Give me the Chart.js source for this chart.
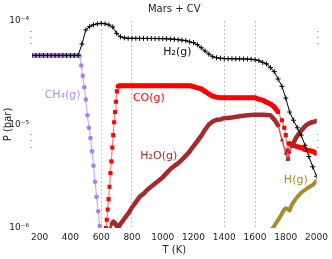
<!DOCTYPE html>
<html>
<head>
<meta charset="utf-8">
<script src="https://cdn.jsdelivr.net/npm/chart.js@4.4.0/dist/chart.umd.min.js"></script>
<style>
  html, body { margin: 0; padding: 0; background: #fff; }
</style>
</head>
<body>
<canvas id="chart" width="332" height="259"></canvas>
<script>
// temperatures (K) and partial pressures (bar)
const tempH2 = [150,175,200,225,250,275,300,325,350,375,400,425,450,475,500,525,550,575,600,625,650,675,700,725,750,775,800,825,850,875,900,925,950,975,1000,1025,1050,1075,1100,1125,1150,1175,1200,1225,1250,1275,1300,1325,1350,1375,1400,1425,1450,1475,1500,1525,1550,1575,1600,1625,1650,1675,1700,1725,1750,1775,1800,1825,1850,1875,1900,1925,1950,1975,2000];
const presH2 = [4.65e-5,4.65e-5,4.65e-5,4.65e-5,4.65e-5,4.65e-5,4.65e-5,4.65e-5,4.65e-5,4.65e-5,4.65e-5,4.65e-5,4.65e-5,
  6.0e-5,8.2e-5,8.85e-5,9.2e-5,9.38e-5,9.5e-5,9.4e-5,9.16e-5,8.75e-5,7.6e-5,7.05e-5,6.87e-5,
  6.8e-5,6.8e-5,6.8e-5,6.79e-5,6.79e-5,6.78e-5,6.78e-5,6.77e-5,6.76e-5,6.75e-5,6.73e-5,6.7e-5,
  6.67e-5,6.6e-5,6.53e-5,6.46e-5,6.3e-5,6.17e-5,5.9e-5,5.52e-5,5.13e-5,4.79e-5,4.52e-5,4.42e-5,4.37e-5,
  4.33e-5,4.32e-5,4.32e-5,4.31e-5,4.31e-5,4.3e-5,4.29e-5,4.27e-5,
  4.22e-5,4.14e-5,3.98e-5,3.85e-5,3.55e-5,3.24e-5,2.75e-5,2.34e-5,1.8e-5,1.32e-5,1.1e-5,9.3e-6,7.9e-6,6.3e-6,4.9e-6,3.9e-6,3.16e-6];

const tempCH4 = [150,175,200,225,250,275,300,325,350,375,400,425,450,460,470,480,490,500,510,520,530,540,550,560,570,580,590];
const presCH4 = [4.65e-5,4.65e-5,4.65e-5,4.65e-5,4.65e-5,4.65e-5,4.65e-5,4.65e-5,4.65e-5,4.65e-5,4.65e-5,4.65e-5,4.65e-5,
  4.6e-5,3.72e-5,2.95e-5,2.29e-5,1.74e-5,1.23e-5,9.3e-6,7.4e-6,5.5e-6,4.0e-6,2.8e-6,2.0e-6,1.45e-6,1.05e-6];

const tempCO = [630,636,642,648,654,660,666,672,678,684,690,696,702,708,
  725,750,775,800,825,850,875,900,925,950,975,1000,1025,1050,1075,1100,1125,1150,1175,
  1200,1225,1250,1275,1300,1325,1350,1375,1400,1425,1450,1475,1500,1525,1550,1575,1600,
  1625,1650,1675,1700,1725,1750,1775,1790,1800,1810,1815,1820,1850,1875,1900,1925,1950,1975,2000];
const presCO = [1.0e-6,1.2e-6,1.51e-6,1.9e-6,2.5e-6,3.4e-6,4.4e-6,6.0e-6,7.9e-6,1.05e-5,1.32e-5,1.66e-5,2.09e-5,2.34e-5,
  2.37e-5,2.37e-5,2.37e-5,2.37e-5,2.37e-5,2.37e-5,2.37e-5,2.37e-5,2.37e-5,2.37e-5,2.37e-5,2.37e-5,2.37e-5,2.37e-5,2.37e-5,2.37e-5,2.37e-5,2.37e-5,2.37e-5,
  2.32e-5,2.26e-5,2.21e-5,2.09e-5,1.97e-5,1.88e-5,1.84e-5,1.81e-5,1.81e-5,1.81e-5,1.81e-5,1.81e-5,1.81e-5,1.81e-5,1.81e-5,1.81e-5,1.81e-5,
  1.76e-5,1.72e-5,1.64e-5,1.58e-5,1.48e-5,1.32e-5,1.1e-5,9.3e-6,7.9e-6,5.6e-6,4.7e-6,6.6e-6,6.3e-6,6.1e-6,5.96e-6,5.75e-6,5.6e-6,5.5e-6,5.25e-6];

const tempH2O = [650,660,670,680,690,700,710,720,740,760,780,800,825,850,875,900,925,950,975,1000,
  1025,1050,1075,1100,1125,1150,1175,1200,1225,1250,1275,1300,1325,1350,1375,1400,1450,1500,1550,1600,1650,
  1700,1725,1750,1775,1800,1812,1825,1840,1870,1900,1930,1960,1990,2000];
const presH2O = [9.3e-7,1.02e-6,1.1e-6,1.15e-6,1.12e-6,1.05e-6,1.0e-6,1.07e-6,1.17e-6,1.29e-6,1.41e-6,1.58e-6,1.78e-6,2.0e-6,2.14e-6,2.34e-6,2.51e-6,2.69e-6,2.88e-6,3.09e-6,
  3.39e-6,3.72e-6,3.98e-6,4.22e-6,4.57e-6,5.0e-6,5.5e-6,6.17e-6,6.9e-6,7.76e-6,8.9e-6,1.0e-5,1.07e-5,1.11e-5,1.12e-5,1.15e-5,1.17e-5,1.2e-5,1.23e-5,1.24e-5,1.24e-5,
  1.23e-5,1.12e-5,9.8e-6,7.1e-6,5.25e-6,4.57e-6,5.4e-6,6.2e-6,7.6e-6,8.7e-6,9.8e-6,1.04e-5,1.07e-5,1.08e-5];

const tempH = [1700,1720,1743,1765,1786,1800,1812,1824,1835,1850,1875,1900,1925,1950,1975,1990,2000];
const presH = [9.1e-7,1.02e-6,1.15e-6,1.3e-6,1.48e-6,1.55e-6,1.53e-6,1.48e-6,1.62e-6,1.78e-6,2.0e-6,2.19e-6,2.34e-6,2.48e-6,2.6e-6,2.75e-6,2.85e-6];

const xTicks = [200,400,600,800,1000,1200,1400,1600,1800,2000];
const gridTemps = [600,800,1400,1600];
const yTicks = [1e-6,6e-6,7e-6,8e-6,1e-5,6e-5,7e-5,8e-5,1e-4];

const FONT = '"DejaVu Sans", sans-serif';
Chart.defaults.font.family = FONT;
Chart.defaults.color = '#222';

function pts(ts, ps) {
    return ts.map((t, i) => ({ x: t, y: ps[i] }));
}

// steep parts are drawn thin and pale, flat parts as a thick band
function steep(c) {
    return Math.abs(c.p1.y - c.p0.y) > 2 * Math.abs(c.p1.x - c.p0.x);
}
function band(thick, thin, col, pale) {
    return {
        borderWidth: c => steep(c) ? thin : thick,
        borderColor: c => steep(c) ? pale : col
    };
}

const SUP = { '-': '⁻', '0': '⁰', '1': '¹', '2': '²', '3': '³', '4': '⁴', '5': '⁵', '6': '⁶', '7': '⁷', '8': '⁸', '9': '⁹' };
function isMajor(v) {
    const e = Math.log10(v);
    return Math.abs(e - Math.round(e)) < 1e-6;
}
function powLabel(v) {
    if (!isMajor(v)) return '';
    return '10' + String(Math.round(Math.log10(v))).split('').map(ch => SUP[ch]).join('');
}

// species names placed in data coordinates
const curveLabels = [
    { text: 'CH₄(g)', t: 349, p: 1.94e-5, color: '#b38ff0' },
    { text: 'CO(g)', t: 910, p: 1.78e-5, color: '#ff0000' },
    { text: 'H₂(g)', t: 1095, p: 5.02e-5, color: '#111111' },
    { text: 'H₂O(g)', t: 974, p: 4.97e-6, color: '#a52a2a' },
    { text: 'H(g)', t: 1865, p: 2.92e-6, color: '#a88b2c' }
];
const labelPlugin = {
    id: 'curveLabels',
    afterDatasetsDraw(chart) {
        const c = chart.ctx;
        const xs = chart.scales.x, ys = chart.scales.y;
        c.save();
        c.font = '11px ' + FONT;
        c.textAlign = 'center';
        c.textBaseline = 'middle';
        curveLabels.forEach(l => {
            c.fillStyle = l.color;
            c.fillText(l.text, xs.getPixelForValue(l.t), ys.getPixelForValue(l.p));
        });
        c.restore();
    }
};

const minorTick = c => (c.tick && !isMajor(c.tick.value)) ? '#aaa' : 'rgba(0,0,0,0)';

new Chart(document.getElementById('chart'), {
    type: 'line',
    data: {
        datasets: [
            {
                label: 'H2(g)', data: pts(tempH2, presH2), order: 1,
                borderColor: '#000', borderWidth: 1,
                pointStyle: 'cross', pointRadius: 2.5, pointBorderColor: '#000', pointBorderWidth: 1
            },
            {
                label: 'H2O(g)', data: pts(tempH2O, presH2O), order: 2,
                borderColor: '#a52a2a', borderJoinStyle: 'round', borderCapStyle: 'round',
                segment: band(4.5, 1.5, '#a52a2a', '#c06060'),
                pointStyle: 'triangle', pointRadius: 2.5, pointBackgroundColor: '#a52a2a', pointBorderWidth: 0
            },
            {
                label: 'CO(g)', data: pts(tempCO, presCO), order: 3,
                borderColor: '#ff0000', borderJoinStyle: 'round',
                segment: band(5, 1.2, '#ff0000', '#ff7a7a'),
                pointStyle: 'rect', pointRadius: 2.9, pointBackgroundColor: '#ff0000', pointBorderWidth: 0
            },
            {
                label: 'H(g)', data: pts(tempH, presH), order: 4,
                borderColor: '#a88b2c', borderWidth: 4, borderJoinStyle: 'round', borderCapStyle: 'round',
                pointRadius: 0
            },
            {
                label: 'CH4(g)', data: pts(tempCH4, presCH4), order: 5,
                borderColor: '#a97ff0', borderJoinStyle: 'round',
                segment: band(4.5, 1.2, '#ad86f1', '#c9acf6'),
                pointStyle: 'circle', pointRadius: 2.3, pointBackgroundColor: '#a97ff0', pointBorderWidth: 0
            }
        ]
    },
    options: {
        responsive: false,
        animation: false,
        layout: { padding: 0 },
        plugins: {
            legend: { display: false },
            tooltip: { enabled: false },
            title: {
                display: true, text: 'Mars + CV', fullSize: false,
                font: { size: 10, weight: 'normal' }, color: '#222',
                padding: { top: 3, bottom: 6 }
            }
        },
        scales: {
            x: {
                type: 'linear', min: 150, max: 2000,
                afterBuildTicks: s => { s.ticks = xTicks.map(v => ({ value: v })); },
                afterFit: s => { s.height = 31; },
                ticks: { font: { size: 9 }, padding: 4, maxRotation: 0, autoSkip: false, callback: v => String(v) },
                grid: {
                    color: c => (c.tick && gridTemps.includes(c.tick.value)) ? '#c4c4c4' : 'rgba(0,0,0,0)',
                    drawTicks: false, lineWidth: 1
                },
                border: { display: false, dash: [2, 2] },
                title: { display: true, text: 'T (K)', font: { size: 10 }, padding: { top: 0, bottom: 3 } }
            },
            y: {
                type: 'logarithmic', position: 'left', min: 1e-6, max: 1e-4,
                afterBuildTicks: s => { s.ticks = yTicks.map(v => ({ value: v })); },
                afterFit: s => { s.width = 32; },
                ticks: { font: { size: 9 }, padding: 1, autoSkip: false, callback: v => powLabel(v) },
                grid: { drawOnChartArea: false, tickLength: 2, tickColor: minorTick },
                border: { display: false },
                title: { display: true, text: 'P (bar)', font: { size: 10 }, padding: { top: 2, bottom: 0 } }
            },
            y2: {
                type: 'logarithmic', position: 'right', min: 1e-6, max: 1e-4,
                afterBuildTicks: s => { s.ticks = yTicks.map(v => ({ value: v })); },
                afterFit: s => { s.width = 12; },
                ticks: { display: false },
                grid: { drawOnChartArea: false, tickLength: 2, tickColor: minorTick },
                border: { display: false }
            }
        }
    },
    plugins: [labelPlugin]
});
</script>
</body>
</html>
